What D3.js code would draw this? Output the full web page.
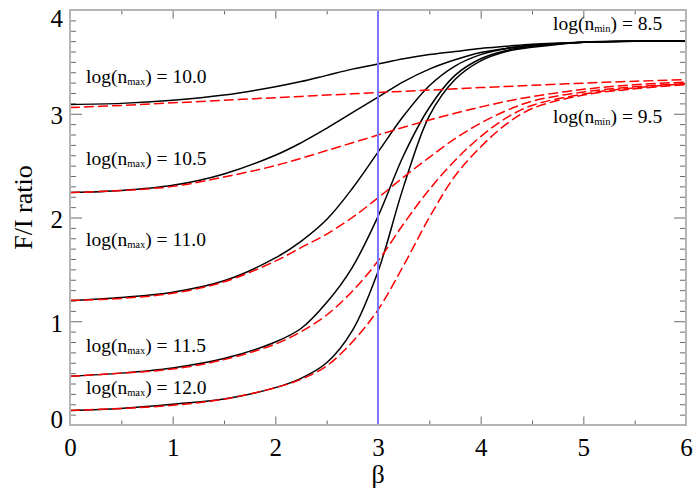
<!DOCTYPE html>
<html>
<head>
<meta charset="utf-8">
<script src="https://cdn.jsdelivr.net/npm/d3@7"></script>
<style>
  body { margin: 0; background: #fff; }
  svg { display: block; font-family: "Liberation Serif", "DejaVu Serif", serif; }
</style>
</head>
<body>
<svg id="chart" width="700" height="500"></svg>
<script>
// ---- data ----
const beta = [0, 0.5, 1, 1.5, 2, 2.25, 2.5, 2.75, 3, 3.25, 3.5, 3.75, 4, 4.25, 4.5, 5, 5.5, 6];

// log(n_min) = 8.5 (solid black)
const solid_10_0 = [3.09, 3.10, 3.13, 3.18, 3.26, 3.31, 3.37, 3.43, 3.48, 3.53, 3.57, 3.60, 3.63, 3.65, 3.67, 3.69, 3.70, 3.70];
const solid_10_5 = [2.24, 2.26, 2.31, 2.42, 2.60, 2.72, 2.86, 3.01, 3.16, 3.31, 3.43, 3.52, 3.59, 3.63, 3.66, 3.69, 3.70, 3.70];
const solid_11_0 = [1.20, 1.23, 1.28, 1.39, 1.61, 1.77, 1.98, 2.28, 2.63, 2.98, 3.27, 3.46, 3.57, 3.63, 3.66, 3.69, 3.70, 3.70];
const solid_11_5 = [0.47, 0.50, 0.55, 0.64, 0.80, 0.93, 1.18, 1.52, 2.01, 2.60, 3.06, 3.37, 3.53, 3.61, 3.65, 3.69, 3.70, 3.70];
const solid_12_0 = [0.14, 0.16, 0.20, 0.25, 0.36, 0.45, 0.60, 0.91, 1.48, 2.30, 2.98, 3.33, 3.51, 3.60, 3.64, 3.69, 3.70, 3.70];

// log(n_min) = 9.5 (dashed red)
const dashed_10_0 = [3.060, 3.080, 3.105, 3.130, 3.155, 3.167, 3.180, 3.192, 3.204, 3.216, 3.228, 3.240, 3.252, 3.263, 3.274, 3.295, 3.313, 3.330];
const dashed_10_5 = [2.24, 2.26, 2.30, 2.39, 2.50, 2.57, 2.645, 2.72, 2.795, 2.87, 2.94, 3.005, 3.065, 3.12, 3.165, 3.235, 3.28, 3.305];
const dashed_11_0 = [1.20, 1.22, 1.27, 1.38, 1.58, 1.71, 1.84, 2.00, 2.19, 2.39, 2.58, 2.76, 2.91, 3.03, 3.12, 3.21, 3.26, 3.29];
const dashed_11_5 = [0.47, 0.50, 0.54, 0.63, 0.78, 0.90, 1.06, 1.29, 1.58, 1.94, 2.27, 2.55, 2.78, 2.96, 3.08, 3.19, 3.25, 3.29];
const dashed_12_0 = [0.14, 0.16, 0.19, 0.25, 0.36, 0.44, 0.57, 0.80, 1.11, 1.54, 2.00, 2.40, 2.68, 2.90, 3.05, 3.18, 3.24, 3.28];

const solidSeries = [solid_10_0, solid_10_5, solid_11_0, solid_11_5, solid_12_0];
const dashedSeries = [dashed_10_0, dashed_10_5, dashed_11_0, dashed_11_5, dashed_12_0];

const nmaxLabels = ["10.0", "10.5", "11.0", "11.5", "12.0"];
const nmaxLabelAt = [3.30, 2.51, 1.73, 0.70, 0.30];   // label baselines, data units
const nminLabels = ["8.5", "9.5"];
const nminLabelAt = [3.81, 2.91];
const betaMark = 3;

const xTicks = [0, 1, 2, 3, 4, 5, 6];
const xMinor = [0.5, 1.5, 2.5, 3.5, 4.5, 5.5];
const yTicks = [0, 1, 2, 3, 4];
const yMinor = d3.range(0, 41).map(i => i / 10).filter(v => Math.abs(v - Math.round(v)) > 1e-9);

// ---- layout ----
const svg = d3.select("#chart");
const L = 70, R = 686, T = 10, B = 425;
const x = d3.scaleLinear().domain([0, 6]).range([L, R]);
const y = d3.scaleLinear().domain([0, 4]).range([B, T]);

const tickColor = "#6a6a6a";
function styleAxis(g) {
  g.select(".domain").remove();
  g.selectAll(".tick line").attr("stroke", tickColor).attr("stroke-width", 1);
  g.selectAll(".tick text").attr("fill", "#000").attr("font-family", "Liberation Serif").attr("font-size", 25);
}

// bottom
svg.append("g").attr("transform", `translate(0,${B})`)
  .call(d3.axisBottom(x).tickValues(xTicks).tickSize(-8.5).tickPadding(13).tickFormat(d3.format("d")))
  .call(styleAxis);
svg.append("g").attr("transform", `translate(0,${B})`)
  .call(d3.axisBottom(x).tickValues(xMinor).tickSize(-4.5).tickFormat(""))
  .call(styleAxis);
// top
svg.append("g").attr("transform", `translate(0,${T})`)
  .call(d3.axisTop(x).tickValues(xTicks).tickSize(-8.5).tickFormat(""))
  .call(styleAxis);
svg.append("g").attr("transform", `translate(0,${T})`)
  .call(d3.axisTop(x).tickValues(xMinor).tickSize(-4.5).tickFormat(""))
  .call(styleAxis);
// left
const yAxisG = svg.append("g").attr("transform", `translate(${L},0)`)
  .call(d3.axisLeft(y).tickValues(yTicks).tickSize(-12).tickPadding(7).tickFormat(d3.format("d")))
  .call(styleAxis);
yAxisG.selectAll(".tick text").attr("dy", "0.40em");
yAxisG.selectAll(".tick").filter(d => d === 0).select("text").attr("dy", "0.08em");
yAxisG.selectAll(".tick").filter(d => d === 4).select("text").attr("dy", "0.65em");
svg.append("g").attr("transform", `translate(${L},0)`)
  .call(d3.axisLeft(y).tickValues(yMinor).tickSize(-6).tickFormat(""))
  .call(styleAxis);
// right
svg.append("g").attr("transform", `translate(${R},0)`)
  .call(d3.axisRight(y).tickValues(yTicks).tickSize(-12).tickFormat(""))
  .call(styleAxis);
svg.append("g").attr("transform", `translate(${R},0)`)
  .call(d3.axisRight(y).tickValues(yMinor).tickSize(-6).tickFormat(""))
  .call(styleAxis);

// curves
const line = d3.line()
  .x((d, i) => x(beta[i]))
  .y(d => y(d))
  .curve(d3.curveCatmullRom.alpha(0.5));

svg.append("defs").append("clipPath").attr("id", "plotclip")
  .append("rect").attr("x", L).attr("y", T).attr("width", R - L).attr("height", B - T);

const plot = svg.append("g").attr("clip-path", "url(#plotclip)");

plot.selectAll("path.solid").data(solidSeries).join("path")
  .attr("class", "solid")
  .attr("d", line)
  .attr("fill", "none")
  .attr("stroke", "#000")
  .attr("stroke-width", 1.5);

plot.selectAll("path.dashed").data(dashedSeries).join("path")
  .attr("class", "dashed")
  .attr("d", line)
  .attr("fill", "none")
  .attr("stroke", "#ff0000")
  .attr("stroke-width", 1.5)
  .attr("stroke-dasharray", "10,4");

// vertical line at beta = 3
plot.append("line")
  .attr("x1", x(betaMark)).attr("x2", x(betaMark))
  .attr("y1", y(0)).attr("y2", y(4))
  .attr("stroke", "#7878ff")
  .attr("stroke-width", 2);

// frame
svg.append("rect")
  .attr("x", L).attr("y", T).attr("width", R - L).attr("height", B - T)
  .attr("fill", "none").attr("stroke", "#b4b4b4").attr("stroke-width", 2);

// labels
function logLabel(xPos, yPos, sub, val) {
  const t = svg.append("text")
    .attr("x", xPos).attr("y", yPos)
    .attr("font-size", 19.5).attr("fill", "#000");
  t.append("tspan").text("log(n");
  t.append("tspan").attr("font-size", 10.5).attr("dy", 2).text(sub);
  t.append("tspan").attr("dy", -2).text(") = " + val);
}
nmaxLabels.forEach((v, i) => logLabel(86, y(nmaxLabelAt[i]), "max", v));
nminLabels.forEach((v, i) => logLabel(553, y(nminLabelAt[i]), "min", v));

// axis titles
svg.append("text")
  .attr("x", x(3)).attr("y", 483)
  .attr("text-anchor", "middle")
  .attr("font-size", 26).attr("fill", "#000")
  .text("β");

svg.append("text")
  .attr("transform", `translate(32,${(T + B) / 2 - 10}) rotate(-90)`)
  .attr("text-anchor", "middle")
  .attr("font-size", 26).attr("fill", "#000")
  .text("F/I ratio");
</script>
</body>
</html>
